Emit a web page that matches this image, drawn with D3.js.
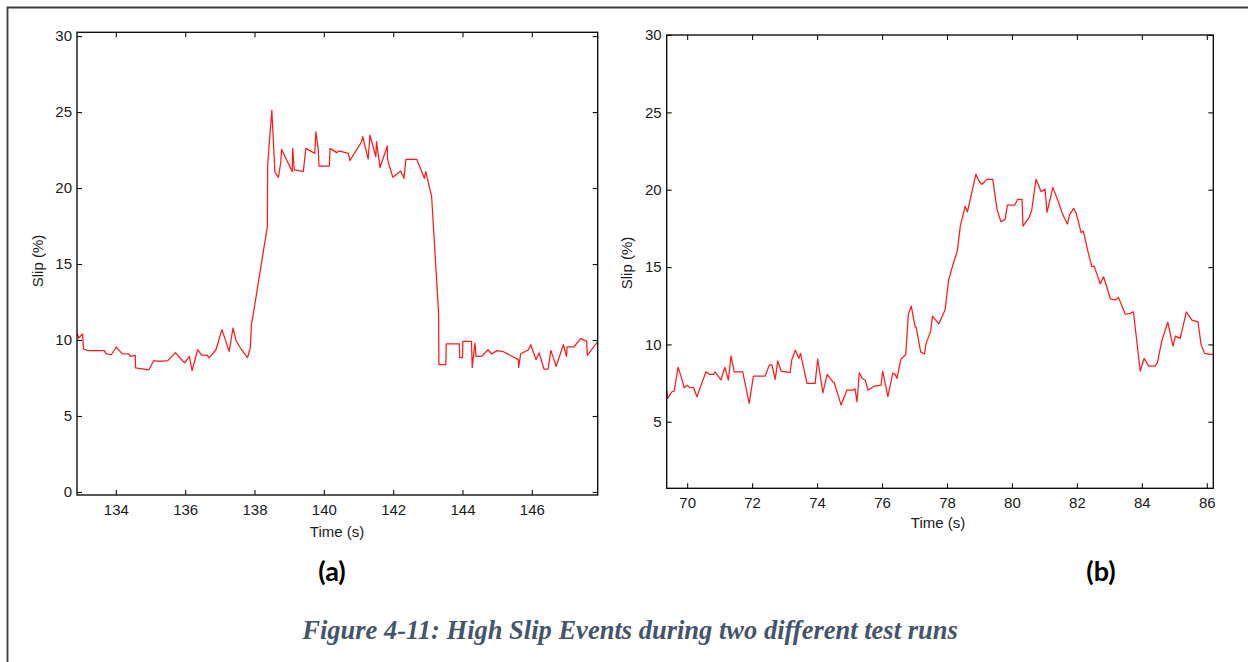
<!DOCTYPE html>
<html>
<head>
<meta charset="utf-8">
<script src="https://cdn.jsdelivr.net/npm/d3@7"></script>
<style>
  html, body { margin: 0; padding: 0; background: #fff; }
  svg { display: block; }
</style>
</head>
<body>
<svg id="fig" width="1248" height="662"></svg>
<script>
// Run (a): slip during the first high-slip event
const timeA = [132.88,132.93,133.04,133.07,133.20,133.67,133.72,133.87,134.01,134.18,134.37,134.42,134.56,134.57,134.95,135.09,135.28,135.50,135.72,135.94,135.99,136.12,136.20,136.36,136.47,136.63,136.69,136.89,137.06,137.27,137.38,137.47,137.61,137.80,137.88,137.91,137.97,138.37,138.38,138.50,138.59,138.69,138.76,138.78,139.09,139.10,139.15,139.41,139.48,139.74,139.77,139.84,139.86,140.16,140.18,140.37,140.43,140.71,140.75,141.09,141.12,141.28,141.33,141.50,141.52,141.62,141.83,141.84,141.99,142.22,142.31,142.37,142.68,142.90,142.94,143.11,143.31,143.32,143.52,143.53,143.91,143.92,144.00,144.01,144.26,144.28,144.36,144.39,144.55,144.74,144.84,144.99,145.18,145.61,145.62,145.68,145.90,145.97,146.12,146.21,146.35,146.47,146.55,146.70,146.91,147.00,147.02,147.21,147.41,147.58,147.60,147.92];
const slipA = [10.46,10.13,10.40,9.41,9.30,9.30,9.08,9.03,9.54,9.10,9.08,8.92,8.99,8.16,8.03,8.64,8.60,8.64,9.17,8.60,8.50,8.92,7.98,9.36,9.01,9.01,8.82,9.36,10.68,9.25,10.79,9.95,9.41,8.84,9.51,11.00,11.77,17.46,21.52,25.13,21.01,20.71,21.73,22.55,21.08,22.61,21.19,21.10,22.61,22.28,23.70,22.55,21.45,21.45,22.61,22.33,22.44,22.28,21.80,23.05,23.38,21.91,23.49,22.06,23.05,21.34,22.77,21.85,20.71,21.12,20.64,21.89,21.89,20.64,21.08,19.43,11.77,8.38,8.38,9.74,9.74,8.84,8.84,9.91,9.91,8.20,9.80,8.92,8.92,9.36,9.08,9.30,9.23,8.71,8.20,9.10,9.36,9.69,8.71,9.15,8.09,8.09,9.32,8.27,9.69,8.92,9.54,9.54,10.09,9.93,8.99,9.95];

// Run (b): slip during the second high-slip event
const timeB = [69.37,69.40,69.53,69.60,69.72,69.81,69.91,70.00,70.07,70.20,70.30,70.43,70.58,70.70,70.81,70.86,71.04,71.16,71.27,71.35,71.45,71.71,71.91,72.04,72.40,72.53,72.61,72.71,72.79,72.89,73.17,73.22,73.33,73.44,73.49,73.69,73.94,74.02,74.18,74.31,74.48,74.53,74.74,74.92,75.12,75.17,75.23,75.30,75.39,75.48,75.57,75.77,75.97,76.02,76.18,76.33,76.40,76.46,76.58,76.73,76.81,76.90,77.02,77.05,77.19,77.31,77.35,77.50,77.55,77.75,77.94,78.05,78.18,78.32,78.41,78.56,78.63,78.89,78.97,79.07,79.23,79.41,79.54,79.66,79.79,79.86,80.08,80.18,80.31,80.34,80.53,80.61,80.74,80.90,81.02,81.08,81.26,81.41,81.57,81.71,81.77,81.90,81.98,82.13,82.20,82.33,82.46,82.53,82.72,82.82,82.90,83.03,83.18,83.28,83.49,83.64,83.74,83.95,84.07,84.21,84.41,84.48,84.62,84.80,84.96,85.03,85.18,85.37,85.54,85.73,85.82,85.93,86.11,86.20];
const slipB = [7.05,6.51,6.94,6.98,8.52,7.95,7.20,7.37,7.22,7.20,6.62,7.37,8.23,8.06,8.06,8.23,7.70,8.52,7.70,9.25,8.23,8.23,6.19,7.95,7.95,8.67,8.67,7.74,8.94,8.28,8.17,8.99,9.63,9.10,9.42,7.48,7.48,9.05,6.87,8.06,7.59,7.52,6.08,7.05,7.05,7.13,6.29,8.17,7.80,7.70,7.05,7.31,7.37,8.28,6.62,8.15,8.08,7.80,9.05,9.33,11.94,12.48,11.14,11.14,9.52,9.38,10.02,10.86,11.83,11.33,12.22,14.16,15.13,16.05,17.65,18.94,18.57,21.01,20.62,20.34,20.67,20.67,18.73,17.93,18.08,19.00,19.00,19.38,19.38,17.65,18.19,18.68,20.67,19.87,20.04,18.54,20.15,19.33,18.36,17.78,18.36,18.79,18.47,17.22,17.33,16.10,15.02,15.06,13.92,14.37,13.84,12.95,12.87,13.04,11.95,12.01,12.11,8.28,9.10,8.60,8.60,8.84,10.28,11.43,9.89,10.54,10.39,12.11,11.57,11.46,10.02,9.42,9.36,9.36];

// Axis ticks and limits
const xTicksA = [134, 136, 138, 140, 142, 144, 146];
const yTicksA = [0, 5, 10, 15, 20, 25, 30];
const xDomainA = [132.88, 147.9];
const yDomainA = [-0.2, 30.25];

const xTicksB = [70, 72, 74, 76, 78, 80, 82, 84, 86];
const yTicksB = [5, 10, 15, 20, 25, 30];
const xDomainB = [69.37, 86.2];
const yDomainB = [0.7, 30];

const panelLabels = ["(a)", "(b)"];
const xTitle = "Time (s)";
const yTitle = "Slip (%)";
const caption = "Figure 4-11: High Slip Events during two different test runs";

const svg = d3.select("#fig");

// page frame (top and left edges of the figure box)
svg.append("path")
  .attr("d", "M7.5,662 V7.5 H1248")
  .attr("fill", "none")
  .attr("stroke", "#3c3c3c")
  .attr("stroke-width", 1.8);

function drawPanel(cfg) {
  const { left, top, right, bottom } = cfg.box;
  const x = d3.scaleLinear().domain(cfg.xDomain).range([left, right]);
  const y = d3.scaleLinear().domain(cfg.yDomain).range([bottom, top]);
  const g = svg.append("g");
  const font = "'Liberation Sans', Arial, Helvetica, sans-serif";

  const clipId = "clip-" + cfg.id;
  g.append("clipPath").attr("id", clipId)
    .append("rect")
    .attr("x", left).attr("y", top)
    .attr("width", right - left).attr("height", bottom - top);

  // tick marks point inward on all four sides
  const tk = 5;
  const axB = g.append("g").attr("transform", `translate(0,${bottom})`)
    .call(d3.axisBottom(x).tickValues(cfg.xTicks).tickSizeInner(-tk).tickSizeOuter(0).tickPadding(9));
  const axT = g.append("g").attr("transform", `translate(0,${top})`)
    .call(d3.axisTop(x).tickValues(cfg.xTicks).tickSizeInner(-tk).tickSizeOuter(0).tickFormat(""));
  const axL = g.append("g").attr("transform", `translate(${left},0)`)
    .call(d3.axisLeft(y).tickValues(cfg.yTicks).tickSizeInner(-tk).tickSizeOuter(0).tickPadding(5));
  const axR = g.append("g").attr("transform", `translate(${right},0)`)
    .call(d3.axisRight(y).tickValues(cfg.yTicks).tickSizeInner(-tk).tickSizeOuter(0).tickFormat(""));

  [axB, axT, axL, axR].forEach(a => {
    a.select(".domain").remove();
    a.selectAll(".tick line").attr("stroke", "#111").attr("stroke-width", 1.1);
    a.selectAll(".tick text")
      .attr("fill", "#1a1a1a")
      .style("font-family", font)
      .style("font-size", "15px");
  });

  // data trace
  const line = d3.line()
    .x(d => x(d[0]))
    .y(d => y(d[1]));
  g.append("path")
    .datum(cfg.t.map((t, i) => [t, cfg.v[i]]))
    .attr("clip-path", `url(#${clipId})`)
    .attr("d", line)
    .attr("fill", "none")
    .attr("stroke", "#ff1a1a")
    .attr("stroke-width", 1.25)
    .attr("stroke-linejoin", "round");

  // axes box
  g.append("rect")
    .attr("x", left).attr("y", top)
    .attr("width", right - left).attr("height", bottom - top)
    .attr("fill", "none")
    .attr("stroke", "#111")
    .attr("stroke-width", 1.4);

  // axis titles
  g.append("text")
    .attr("x", cfg.xTitlePos[0]).attr("y", cfg.xTitlePos[1])
    .attr("text-anchor", "middle")
    .attr("dominant-baseline", "middle")
    .attr("fill", "#1a1a1a")
    .style("font-family", font).style("font-size", "15px")
    .text(xTitle);
  g.append("text")
    .attr("transform", `translate(${cfg.yTitlePos[0]},${cfg.yTitlePos[1]}) rotate(-90)`)
    .attr("text-anchor", "middle")
    .attr("dominant-baseline", "middle")
    .attr("fill", "#1a1a1a")
    .style("font-family", font).style("font-size", "15px")
    .text(yTitle);

  // panel tag
  g.append("text")
    .attr("x", cfg.tagPos[0]).attr("y", cfg.tagPos[1])
    .attr("text-anchor", "middle")
    .attr("dominant-baseline", "middle")
    .attr("fill", "#000")
    .style("font-family", "Lato, 'Open Sans', sans-serif")
    .style("font-weight", "bold")
    .style("font-size", "27px")
    .text(cfg.tag);
}

drawPanel({
  id: "a", t: timeA, v: slipA,
  box: { left: 77, top: 32.3, right: 597.7, bottom: 495 },
  xDomain: xDomainA, yDomain: yDomainA, xTicks: xTicksA, yTicks: yTicksA,
  xTitlePos: [337, 533], yTitlePos: [39, 261], tagPos: [332, 574], tag: panelLabels[0]
});

drawPanel({
  id: "b", t: timeB, v: slipB,
  box: { left: 666.7, top: 35, right: 1213.3, bottom: 488.3 },
  xDomain: xDomainB, yDomain: yDomainB, xTicks: xTicksB, yTicks: yTicksB,
  xTitlePos: [938, 524], yTitlePos: [628, 263], tagPos: [1101, 574], tag: panelLabels[1]
});

// figure caption
svg.append("text")
  .attr("x", 630).attr("y", 633)
  .attr("text-anchor", "middle")
  .attr("dominant-baseline", "middle")
  .attr("fill", "#44546a")
  .style("font-family", "'Liberation Serif', 'Times New Roman', serif")
  .style("font-weight", "bold")
  .style("font-style", "italic")
  .style("font-size", "26.5px")
  .text(caption);
</script>
</body>
</html>
